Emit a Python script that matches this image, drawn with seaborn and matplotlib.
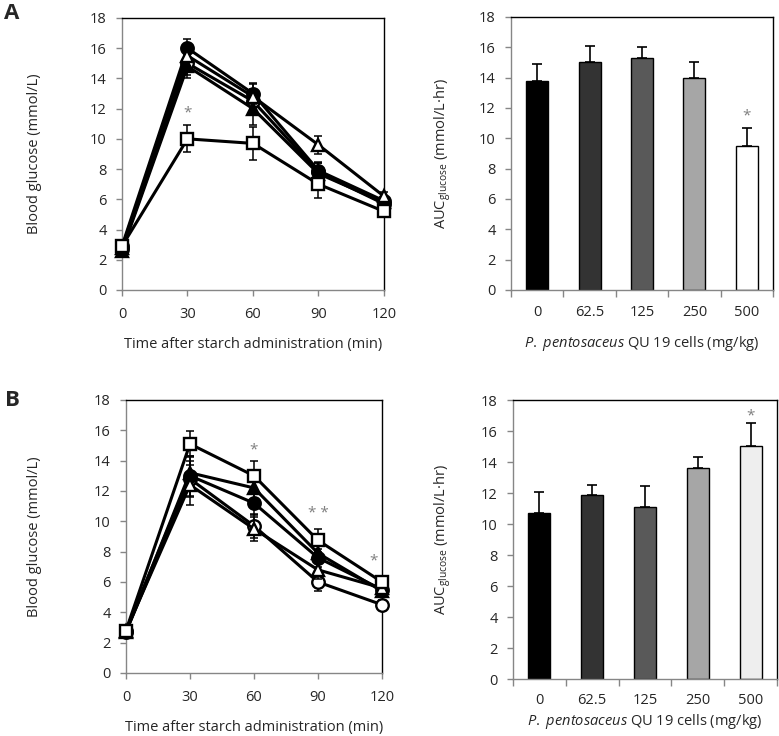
import numpy as np
import pandas as pd
import matplotlib
matplotlib.use("Agg")
import matplotlib.pyplot as plt
import seaborn as sns

# ---------------- data ----------------
times = [0, 30, 60, 90, 120]
doses = ["0", "62.5", "125", "250", "500"]

# Panel A glucose curves (mmol/L)
a_d0 = [2.7, 15.0, 12.5, 7.8, 5.7]
a_d62 = [2.9, 16.0, 13.0, 7.9, 5.9]
a_d125 = [2.6, 14.8, 12.0, 7.7, 5.8]
a_d250 = [2.8, 15.5, 12.8, 9.6, 6.2]
a_d500 = [2.9, 10.0, 9.7, 7.0, 5.2]
a_e0 = [0.3, 0.8, 0.8, 0.6, 0.3]
a_e62 = [0.3, 0.6, 0.7, 0.6, 0.3]
a_e125 = [0.3, 0.8, 1.1, 0.7, 0.3]
a_e250 = [0.3, 0.7, 0.8, 0.6, 0.3]
a_e500 = [0.3, 0.9, 1.1, 0.9, 0.3]

# Panel B glucose curves (mmol/L)
b_d0 = [2.7, 12.8, 9.7, 6.0, 4.5]
b_d62 = [2.8, 13.0, 11.2, 7.6, 5.5]
b_d125 = [2.7, 13.2, 12.2, 7.9, 5.4]
b_d250 = [2.8, 12.4, 9.5, 6.8, 5.6]
b_d500 = [2.8, 15.1, 13.0, 8.75, 6.0]
b_e0 = [0.3, 1.2, 0.8, 0.6, 0.3]
b_e62 = [0.3, 1.3, 0.8, 0.6, 0.3]
b_e125 = [0.3, 1.1, 0.9, 0.6, 0.3]
b_e250 = [0.3, 1.3, 0.8, 0.6, 0.3]
b_e500 = [0.3, 0.85, 1.0, 0.75, 0.4]

# AUC bars
a_auc = [13.8, 15.05, 15.3, 14.0, 9.5]
a_auc_err = [1.1, 1.05, 0.7, 1.0, 1.2]
b_auc = [10.7, 11.9, 11.1, 13.6, 15.05]
b_auc_err = [1.4, 0.6, 1.35, 0.75, 1.45]
a_bar_colors = ["#000000", "#333333", "#595959", "#a6a6a6", "#ffffff"]
b_bar_colors = ["#000000", "#333333", "#595959", "#a6a6a6", "#eeeeee"]

# marker style per dose: (marker, facecolor)
styles = {"0": ("o", "white"), "62.5": ("o", "black"), "125": ("^", "black"),
          "250": ("^", "white"), "500": ("s", "white")}

sns.set_theme(style="white")
plt.rcParams["font.family"] = ["Open Sans", "DejaVu Sans"]
plt.rcParams["mathtext.fontset"] = "custom"
plt.rcParams["mathtext.rm"] = "Open Sans"
plt.rcParams["mathtext.it"] = "Open Sans:italic"

fig = plt.figure(figsize=(7.79, 7.36), dpi=100)
axA1 = fig.add_axes([0.1566, 0.606, 0.3363, 0.3696])
axA2 = fig.add_axes([0.656, 0.606, 0.3363, 0.371])
axB1 = fig.add_axes([0.1617, 0.0856, 0.3286, 0.371])
axB2 = fig.add_axes([0.6585, 0.0774, 0.339, 0.379])

FS = 10.5
GREY = "#868686"


def style_axes(ax):
    for s in ["left", "bottom"]:
        ax.spines[s].set_color(GREY)
        ax.spines[s].set_linewidth(1.0)
    for s in ["top", "right"]:
        ax.spines[s].set_color("black")
        ax.spines[s].set_linewidth(1.0)
    ax.set_ylim(0, 18)
    ax.set_yticks(np.arange(0, 19, 2))
    ax.tick_params(axis="both", which="both", direction="out", length=4,
                   width=1, color=GREY, labelsize=FS, left=True, bottom=True)
    ax.tick_params(axis="y", pad=7)
    ax.tick_params(axis="x", pad=8)
    ax.grid(False)


def line_panel(ax, series, errs, stars, ylab_x):
    zorder = 3
    for d in doses:
        y = series[d]
        e = errs[d]
        m, fc = styles[d]
        df = pd.DataFrame({"t": times, "g": y})
        ax.errorbar(times, y, yerr=e, fmt="none", ecolor="black", elinewidth=1.1,
                    capsize=3, capthick=1.1, zorder=zorder)
        sns.lineplot(data=df, x="t", y="g", ax=ax, color="black", linewidth=2.2,
                     marker=m, markersize=8.5 if m != "o" else 9,
                     markerfacecolor=fc, markeredgecolor="black",
                     markeredgewidth=1.7, zorder=zorder + 1, legend=False)
        zorder += 2
    ax.set_xlim(0, 120)
    ax.set_xticks(times)
    ax.set_ylabel("Blood glucose (mmol/L)", fontsize=FS)
    ax.yaxis.set_label_coords(ylab_x, 0.5)
    for (x, yv, txt) in stars:
        ax.text(x, yv, txt, ha="center", va="center", color="#7f7f7f", fontsize=11,
                zorder=20)
    for ln in ax.lines:
        ln.set_clip_on(False)
    style_axes(ax)
    ax.set_xlabel("Time after starch administration (min)", fontsize=FS, labelpad=11)


def bar_panel(ax, vals, errs, colors, stars, ylab_x, xpad, xlabpad):
    df = pd.DataFrame({"dose": doses, "auc": vals})
    sns.barplot(data=df, x="dose", y="auc", hue="dose", palette=colors, ax=ax,
                width=0.42, edgecolor="black", linewidth=1.0, legend=False,
                errorbar=None, saturation=1)
    xs = np.arange(len(vals))
    ax.errorbar(xs, vals, yerr=[np.zeros(len(errs)), errs], fmt="none",
                ecolor="black", elinewidth=1.2, capsize=3.5, capthick=1.2)
    ax.set_xlim(-0.5, 4.5)
    ax.set_xticks(xs)
    ax.set_xticks(np.arange(-0.5, 5.0, 1.0), minor=True)
    style_axes(ax)
    ax.tick_params(axis="x", which="major", length=0, pad=xpad)
    ax.tick_params(axis="x", which="minor", length=5, width=1, color=GREY)
    ax.set_xlabel(r"$\mathit{P.\ pentosaceus}$ QU 19 cells (mg/kg)", fontsize=FS,
                  labelpad=xlabpad)
    ax.set_ylabel(r"AUC$_{\mathregular{glucose}}$ (mmol/L·hr)", fontsize=FS)
    ax.yaxis.set_label_coords(ylab_x, 0.5)
    for (x, yv, txt) in stars:
        ax.text(x, yv, txt, ha="center", va="center", color="#7f7f7f", fontsize=11)


line_panel(axA1,
           {"0": a_d0, "62.5": a_d62, "125": a_d125, "250": a_d250, "500": a_d500},
           {"0": a_e0, "62.5": a_e62, "125": a_e125, "250": a_e250, "500": a_e500},
           [(30, 11.7, "*")], -0.305)
line_panel(axB1,
           {"0": b_d0, "62.5": b_d62, "125": b_d125, "250": b_d250, "500": b_d500},
           {"0": b_e0, "62.5": b_e62, "125": b_e125, "250": b_e250, "500": b_e500},
           [(60, 14.7, "*"), (90, 10.5, "* *"), (116, 7.4, "*")], -0.328)
bar_panel(axA2, a_auc, a_auc_err, a_bar_colors, [(4, 11.5, "*")], -0.221, 11, 10)
bar_panel(axB2, b_auc, b_auc_err, b_bar_colors, [(4, 17.0, "*")], -0.227, 10, 3)

fig.text(0.015, 0.981, "A", fontsize=16, fontweight="bold", ha="center", va="center")
fig.text(0.016, 0.456, "B", fontsize=16, fontweight="bold", ha="center", va="center")

fig.savefig("out.png", dpi=100)
